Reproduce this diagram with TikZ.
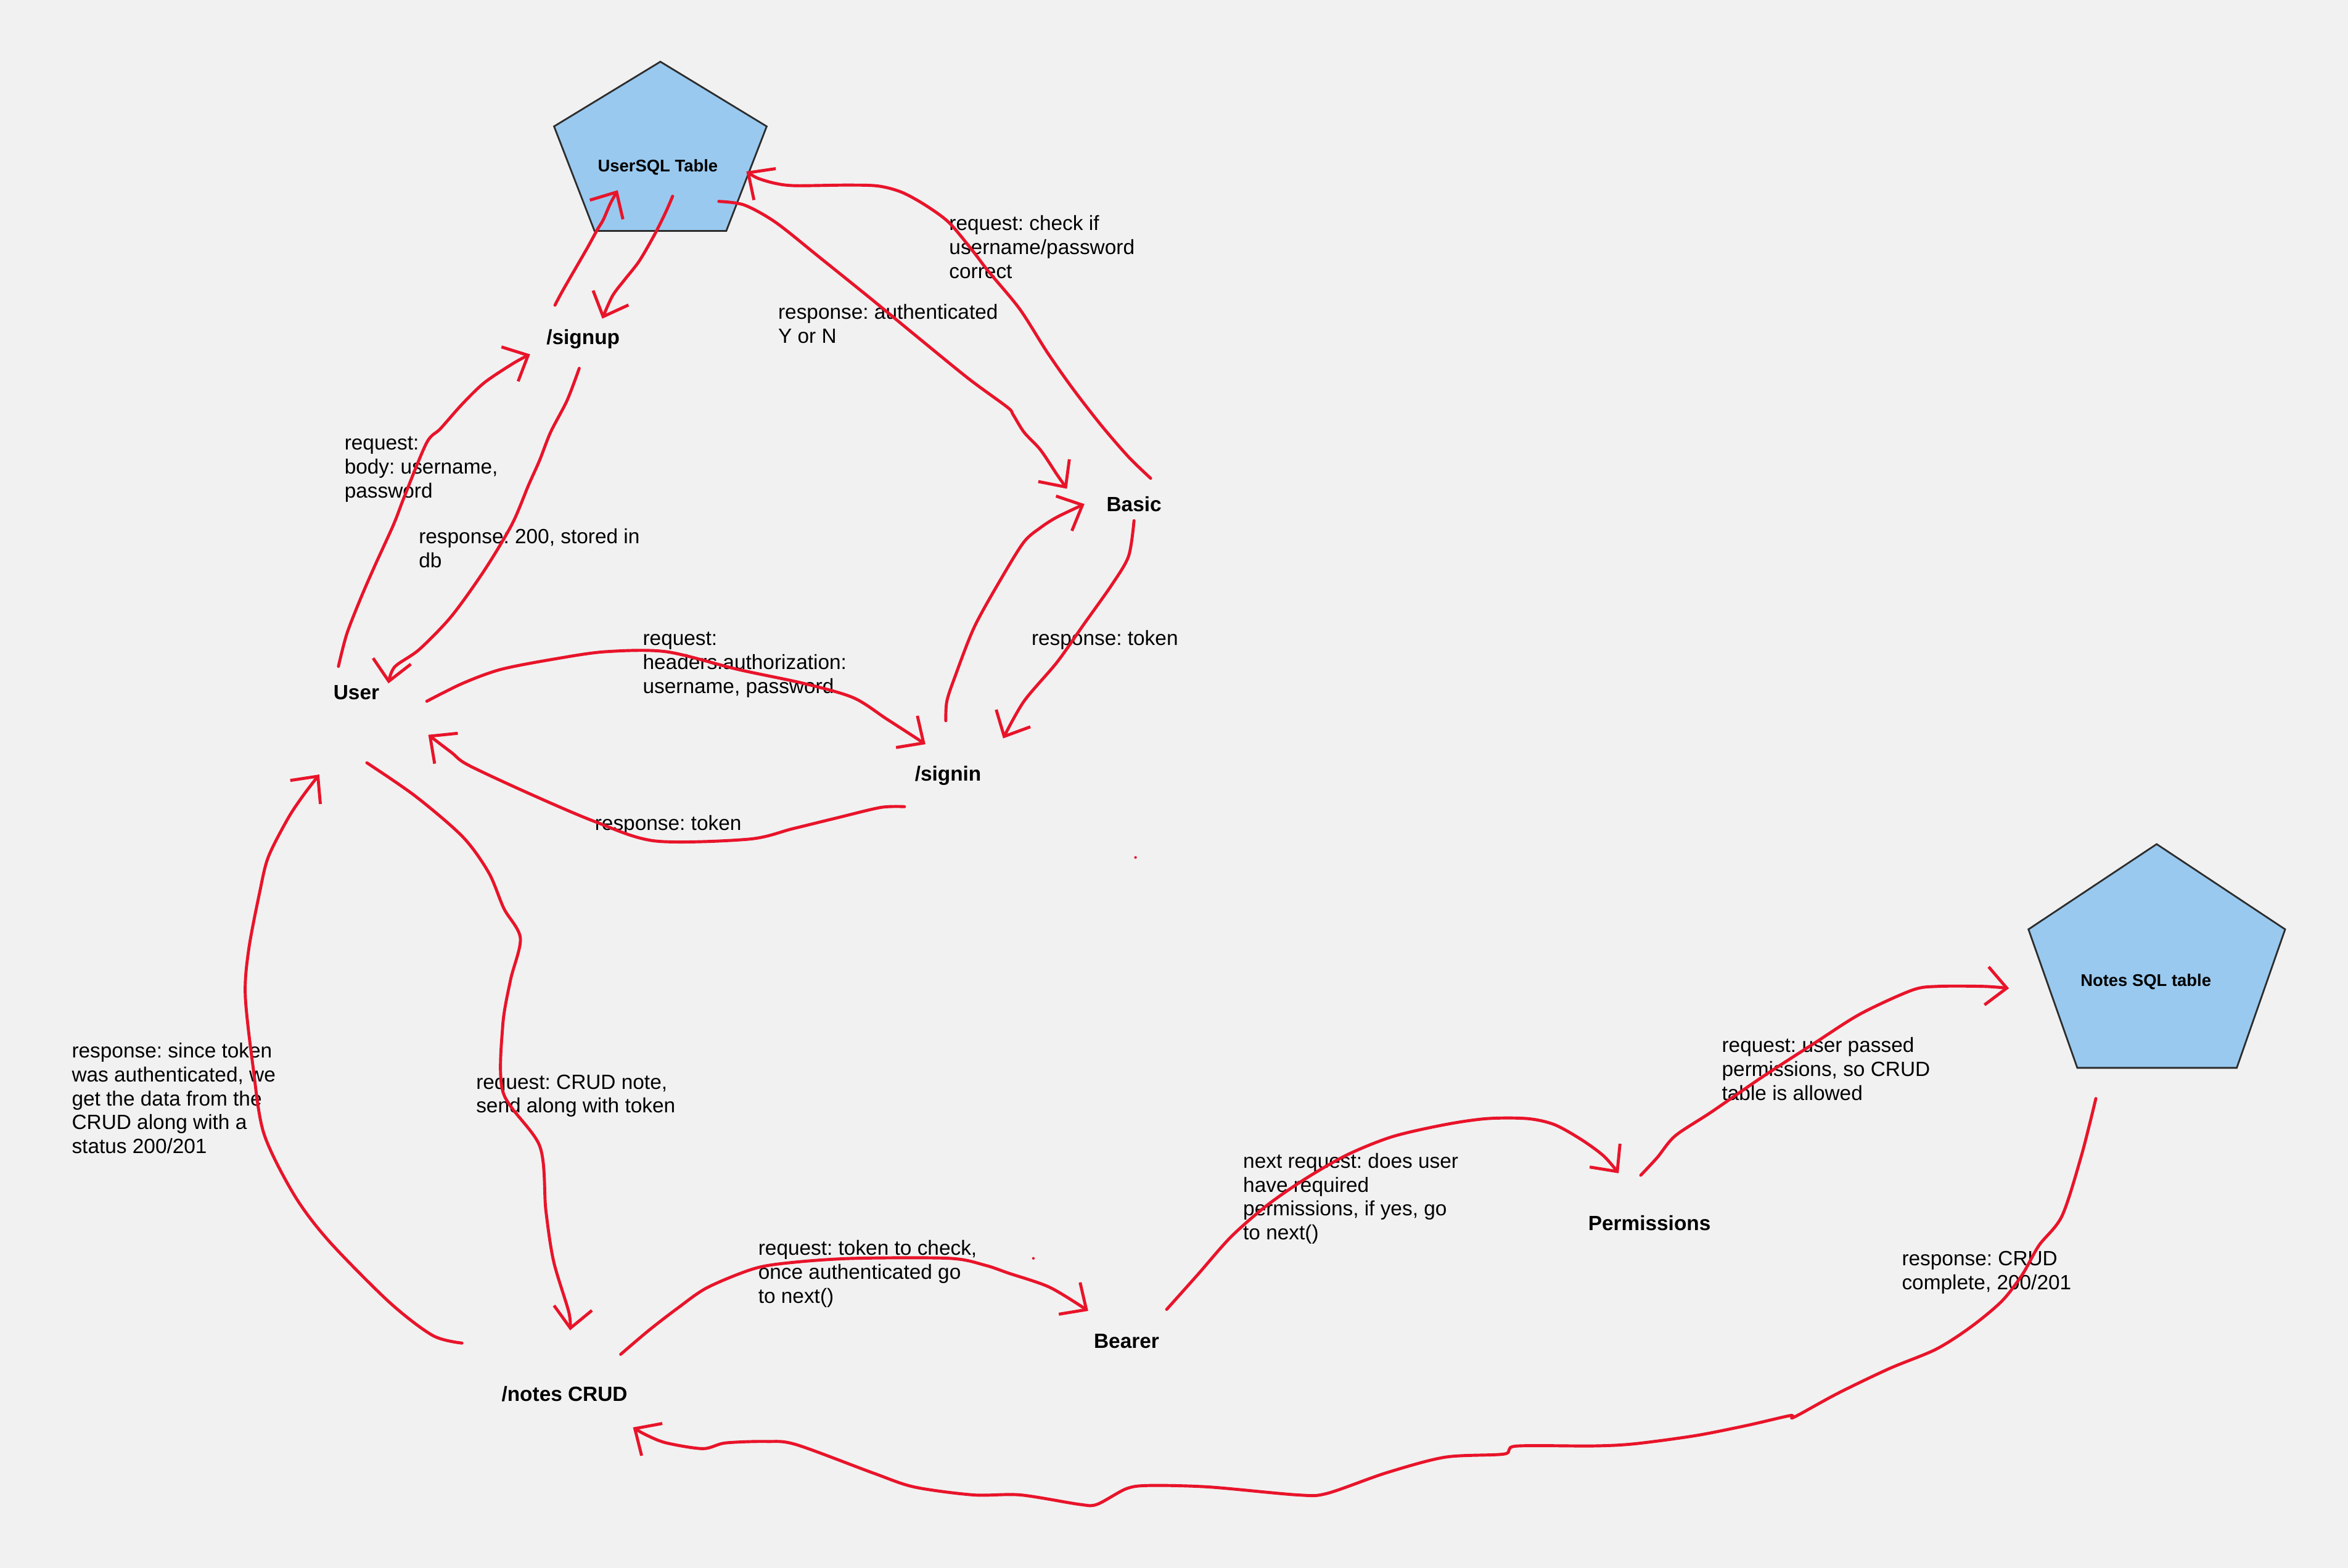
\documentclass[tikz,border=0pt]{standalone}
\usepackage{fontspec}
\setmainfont{Liberation Sans}
\usetikzlibrary{arrows.meta}
\definecolor{bgc}{RGB}{241,241,241}
\definecolor{pen}{RGB}{232,20,42}
\definecolor{dbblue}{RGB}{153,201,239}
\definecolor{dbline}{RGB}{45,45,45}
\frenchspacing
\begin{document}
\begin{tikzpicture}[x=0.24286mm,y=-0.24286mm,
  lbl/.style={font=\fontsize{9.5}{11}\selectfont\bfseries, inner sep=0pt},
  note/.style={font=\fontsize{9.5}{11.05}\selectfont\frenchspacing, align=left, anchor=north west, inner sep=0pt},
  dbtxt/.style={font=\fontsize{7.8}{9}\selectfont\bfseries, inner sep=0pt},
  db/.style={draw=dbline, fill=dbblue, line width=0.8pt, line join=miter},
  conn/.style={draw=pen, line width=1.4pt, line cap=round, line join=round,
    -{Straight Barb[length=3.3mm,width=6.2mm]}},
  ]
\fill[bgc] (0,0) rectangle (1568,1047);
\useasboundingbox (0,0) rectangle (1568,1047);

% database tables
\draw[db] (441,41.2) -- (512,84.4) -- (485,154.2) -- (397,154.2) -- (370,84.4) -- cycle;
\node[dbtxt] (usersql) at (439.3,111.6) {UserSQL Table};
\draw[db] (1440.2,563.7) -- (1526,620.6) -- (1493.7,713.1) -- (1387.2,713.1) -- (1354.6,620.6) -- cycle;
\node[dbtxt] (notessql) at (1433,655.5) {Notes SQL table};

% main nodes
\node[lbl] (user)   at (238,462.4)    {User};
\node[lbl] (signup) at (389.4,226.5)  {/signup};
\node[lbl] (basic)  at (757.3,336.6)  {Basic};
\node[lbl] (signin) at (633.1,517.9)  {/signin};
\node[lbl] (notes)  at (377,931)      {/notes CRUD};
\node[lbl] (bearer) at (752.3,895.8)  {Bearer};
\node[lbl] (perms)  at (1101.5,816.8) {Permissions};

% annotations
\node[note] (t1)  at (633.6,143.5)  {request: check if\\username/password\\correct};
\node[note] (t2)  at (519.4,203)    {response: authenticated\\Y or N};
\node[note] (t3)  at (229.8,291.4)  {request:\\body: username,\\password};
\node[note] (t4)  at (279.4,352.9)  {response: 200, stored in\\db};
\node[note] (t5)  at (429,421.9)    {request:\\headers.authorization:\\username, password};
\node[note] (t6)  at (688.6,420.7)  {response: token};
\node[note] (t7)  at (397,544.3)    {response: token};
\node[note] (t8)  at (47.7,696.1)   {response: since token\\was authenticated, we\\get the data from the\\CRUD along with a\\status 200/201};
\node[note] (t9)  at (317.7,717.3)  {request: CRUD note,\\send along with token};
\node[note] (t10) at (506.1,827.9)  {request: token to check,\\once authenticated go\\to next()};
\node[note] (t11) at (829.9,769.7)  {next request: does user\\have required\\permissions, if yes, go\\to next()};
\node[note] (t12) at (1149.6,692.6) {request: user passed\\permissions, so CRUD\\table is allowed};
\node[note] (t13) at (1269.8,835.2) {response: CRUD\\complete, 200/201};

% connector end points
\coordinate (a1) at (226,445);     \coordinate (b1) at (354,236.6);
\coordinate (a2) at (386.8,246);   \coordinate (b2) at (259.4,456.4);
\coordinate (a3) at (370.6,203.8); \coordinate (b3) at (412.5,127);
\coordinate (a4) at (449.2,131);   \coordinate (b4) at (402.2,212.8);
\coordinate (a5) at (480,134.5);   \coordinate (b5) at (712.5,326.4);
\coordinate (a6) at (768.4,319.4); \coordinate (b6) at (498.4,114.5);
\coordinate (a7) at (285,468.3);   \coordinate (b7) at (618,497);
\coordinate (a8) at (631.6,481.3); \coordinate (b8) at (724.2,336.6);
\coordinate (a9) at (757.3,347.7); \coordinate (b9) at (669.9,493.1);
\coordinate (a10) at (604,538.7);  \coordinate (b10) at (286,490.7);
\coordinate (a11) at (245,509.4);  \coordinate (b11) at (380.7,888.4);
\coordinate (a12) at (308.5,896.9); \coordinate (b12) at (213.2,517.2);
\coordinate (a13) at (414.5,904.4); \coordinate (b13) at (726.7,875.4);
\coordinate (a14) at (779.1,874.4); \coordinate (b14) at (1080.9,783.5);
\coordinate (a15) at (1095.7,784.8); \coordinate (b15) at (1341.6,660);
\coordinate (a16) at (1399.6,733.6); \coordinate (b16) at (422.7,953.2);

% User -> /signup
\draw[conn] plot[smooth, tension=0.5] coordinates {(a1) (231.6,423.3) (240.8,399.7) (250,378.5) (262.9,350.1) (270.2,331.2) (284.9,295.7) (294.1,286.3) (308.8,269.7) (323.5,255.5) (343,242.5) (b1)};
% /signup -> User
\draw[conn] plot[smooth, tension=0.5] coordinates {(a2) (378.7,267.4) (367.7,288.6) (360.3,307.5) (352.9,324.1) (341.9,350.1) (323.5,380.8) (301.5,411.5) (280,433.7) (263.5,445.4) (b2)};
% /signup -> UserSQL
\draw[conn] plot[smooth, tension=0.5] coordinates {(a3) (376.1,193.5) (391.9,166.1) (398.7,153.7) (402.8,146.9) (407.6,135.9) (b3)};
% UserSQL -> /signup
\draw[conn] plot[smooth, tension=0.5] coordinates {(a4) (444.7,141.4) (437.2,156.5) (426.9,174.3) (417.2,186.7) (409,197.6) (b4)};
% UserSQL -> Basic
\draw[conn] plot[smooth, tension=0.5] coordinates {(a5) (497,136.9) (518,148.5) (547,171.6) (581,199) (612.6,225) (647,253) (672.8,272) (676.5,276.8) (683.8,288.6) (694.8,300.4) (705.9,317) (b5)};
% Basic -> UserSQL
\draw[conn] plot[smooth, tension=0.5] coordinates {(a6) (753.7,305.2) (735.3,283.9) (716.3,259.4) (699.3,235.2) (680.9,206.3) (659.9,181) (649.4,167.3) (633.6,148.5) (617.8,136.9) (602,128.3) (586.3,124.2) (565.3,123.6) (531.2,124) (518,122.5) (506,119) (b6)};
% User -> /signin
\draw[conn] plot[smooth, tension=0.5] coordinates {(a7) (308.8,456.4) (334.6,447) (371.3,439.9) (404.4,435.2) (444.9,435.2) (492.6,447) (536.8,456.4) (569.8,465.9) (591.9,480) (610.3,491.9) (b7)};
% /signin -> Basic
\draw[conn] plot[smooth, tension=0.5] coordinates {(a8) (632.3,468.3) (637.8,451.7) (650.7,418.6) (669.1,385.5) (683.8,361.9) (694.8,352.4) (705.9,345.3) (b8)};
% Basic -> /signin
\draw[conn] plot[smooth, tension=0.5] coordinates {(a9) (753.7,371.3) (742.6,390.3) (724.2,416.3) (705.9,442.2) (683.8,468.3) (b9)};
% /signin -> User
\draw[conn] plot[smooth, tension=0.5] coordinates {(a10) (588.2,539.2) (558.8,546.2) (529.4,553.4) (500,560.4) (437.5,561.6) (397.1,548.6) (352.9,529.7) (312.5,510.8) (301.5,502.5) (b10)};
% User -> /notes CRUD
\draw[conn] plot[smooth, tension=0.5] coordinates {(a11) (277.3,531.6) (309.1,558.9) (326.4,582.8) (336.5,606.7) (347.5,626.5) (340.9,654.5) (335.7,685.2) (336,729.6) (360.5,765.5) (364.5,808.1) (369.7,842.3) (379.9,876.4) (b11)};
% /notes CRUD -> User
\draw[conn] plot[smooth, tension=0.5] coordinates {(a12) (288.9,891.8) (260,869.6) (219.5,828.6) (196.4,797.9) (176.2,756.9) (169,712.5) (163.8,664.7) (166.1,634) (173.3,596.4) (179.1,572.5) (192.1,546.9) (202.2,531.6) (b12)};
% /notes CRUD -> Bearer
\draw[conn] plot[smooth, tension=0.5] coordinates {(a13) (433.3,888.4) (452.9,873.3) (472.6,859.7) (504.2,847) (531.7,842.8) (571.1,840.3) (634.1,840.3) (657.8,844.9) (673.5,850.2) (701.1,859.7) (b13)};
% Bearer -> Permissions
\draw[conn] plot[smooth, tension=0.5] coordinates {(a14) (800,851) (822,826) (846,805) (872,787) (900,771) (930,759) (965,751) (993,747) (1020,747) (1038,751) (1056,761) (1071,772) (b14)};
% Permissions -> Notes SQL table
\draw[conn] plot[smooth, tension=0.5] coordinates {(a15) (1106.7,773) (1118.7,758.5) (1142.7,742.7) (1177,719.1) (1211.4,696.8) (1242.3,677.1) (1276.7,661.3) (1293.8,658.7) (1324.8,658.7) (b15)};
% Notes SQL table -> /notes CRUD
\draw[conn] plot[smooth, tension=0.5] coordinates {(a16) (1390,771.6) (1377,812) (1361.6,831.7) (1350.6,851) (1336.9,868.8) (1316.3,886) (1292.9,901) (1261.3,914.1) (1227,930.6) (1198,946.4) (1195.5,945.3) (1166.6,951.9) (1132.3,958.7) (1091.2,964.2) (1063.7,965.6) (1012.3,965.7) (1004.4,971) (965,973.1) (925.6,983.6) (886.2,997.3) (866.5,998.3) (807.4,993) (768.1,992) (752.3,994.1) (732.6,1004.6) (720.8,1004.6) (681.4,998.3) (649.9,998.3) (610.5,993) (582.9,983.6) (531.7,964.7) (512,962.6) (484.4,963.6) (469.4,967.4) (444.7,963.5) (431,958) (b16)};

% stray pen marks
\fill[pen] (758.3,572.6) circle (0.9);
\fill[pen] (690.1,840.3) circle (0.9);
\end{tikzpicture}
\end{document}
